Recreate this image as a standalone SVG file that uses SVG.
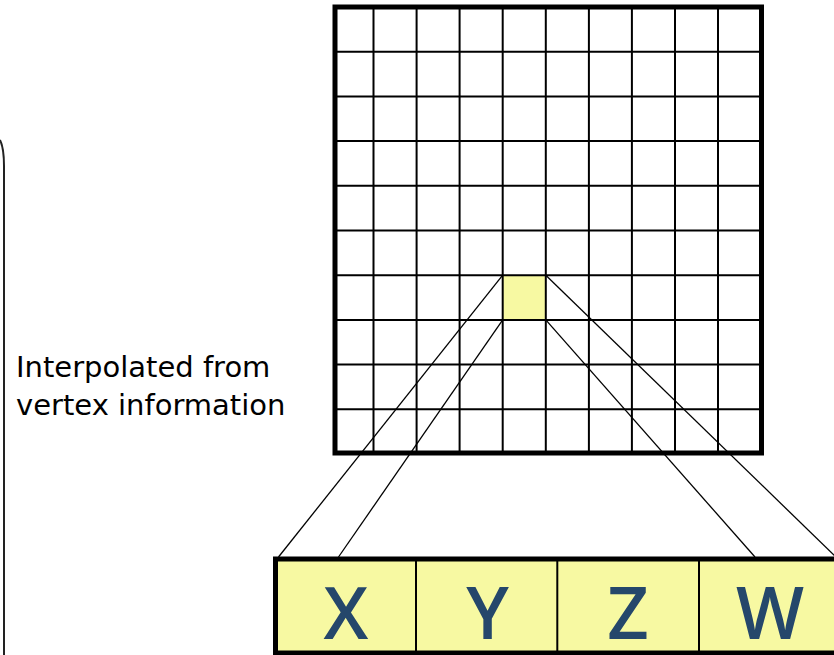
<svg xmlns="http://www.w3.org/2000/svg" width="834" height="655" viewBox="0 0 834 655">
  <style>
    .inner { stroke: #000; stroke-width: 2; fill: none; }
    .outer { stroke: #000; stroke-width: 5; fill: none; }
    .cell { fill: #f7f9a2; }
    .thin { stroke: #000; stroke-width: 1.3; fill: none; }
    .comp { font-family: "Open Sans", "DejaVu Sans", sans-serif; font-weight: 600; font-size: 72px; fill: #25476b; text-anchor: middle; }
    .note { font-family: "DejaVu Sans", Verdana, sans-serif; font-size: 29px; fill: #000; }
  </style>

  <!-- bracket on the left -->
  <g id="bracket">
    <path d="M0,140 Q4,148 4,166 L4,655" stroke="#222" stroke-width="2" fill="none"/>
  </g>

  <!-- annotation -->
  <g id="note">
    <text class="note" x="16" y="377">Interpolated from</text>
    <text class="note" x="16" y="415">vertex information</text>
  </g>

  <!-- pixel grid -->
  <g id="grid">
    <rect class="cell" x="502.7" y="275.2" width="43.1" height="44.7"/>
    <g class="inner">
      <line x1="373.5" y1="7" x2="373.5" y2="453"/>
      <line x1="416.6" y1="7" x2="416.6" y2="453"/>
      <line x1="459.6" y1="7" x2="459.6" y2="453"/>
      <line x1="502.7" y1="7" x2="502.7" y2="453"/>
      <line x1="545.8" y1="7" x2="545.8" y2="453"/>
      <line x1="588.9" y1="7" x2="588.9" y2="453"/>
      <line x1="631.9" y1="7" x2="631.9" y2="453"/>
      <line x1="675.0" y1="7" x2="675.0" y2="453"/>
      <line x1="718.0" y1="7" x2="718.0" y2="453"/>
      <line x1="335" y1="51.7" x2="761" y2="51.7"/>
      <line x1="335" y1="96.4" x2="761" y2="96.4"/>
      <line x1="335" y1="141.1" x2="761" y2="141.1"/>
      <line x1="335" y1="185.8" x2="761" y2="185.8"/>
      <line x1="335" y1="230.5" x2="761" y2="230.5"/>
      <line x1="335" y1="275.2" x2="761" y2="275.2"/>
      <line x1="335" y1="319.9" x2="761" y2="319.9"/>
      <line x1="335" y1="364.6" x2="761" y2="364.6"/>
      <line x1="335" y1="409.3" x2="761" y2="409.3"/>
    </g>
    <rect class="outer" x="335" y="7" width="426.5" height="446"/>
  </g>

  <!-- connectors from the pixel to the component bar -->
  <g id="connectors" class="thin">
    <line x1="502.7" y1="275.2" x2="278.5" y2="557"/>
    <line x1="502.7" y1="319.9" x2="338.5" y2="557"/>
    <line x1="545.8" y1="275.2" x2="838" y2="559"/>
    <line x1="545.8" y1="319.9" x2="755" y2="557"/>
  </g>

  <!-- XYZW component bar -->
  <g id="vector">
    <rect class="cell" x="275.5" y="559" width="570" height="94"/>
    <g class="inner">
      <line x1="416" y1="559" x2="416" y2="653"/>
      <line x1="557.3" y1="559" x2="557.3" y2="653"/>
      <line x1="699" y1="559" x2="699" y2="653"/>
    </g>
    <rect class="outer" x="275.5" y="559" width="570" height="94"/>
    <text class="comp" x="346" y="639">X</text>
    <text class="comp" x="487.5" y="639">Y</text>
    <text class="comp" x="628" y="639">Z</text>
    <text class="comp" x="770" y="639">W</text>
  </g>
</svg>
